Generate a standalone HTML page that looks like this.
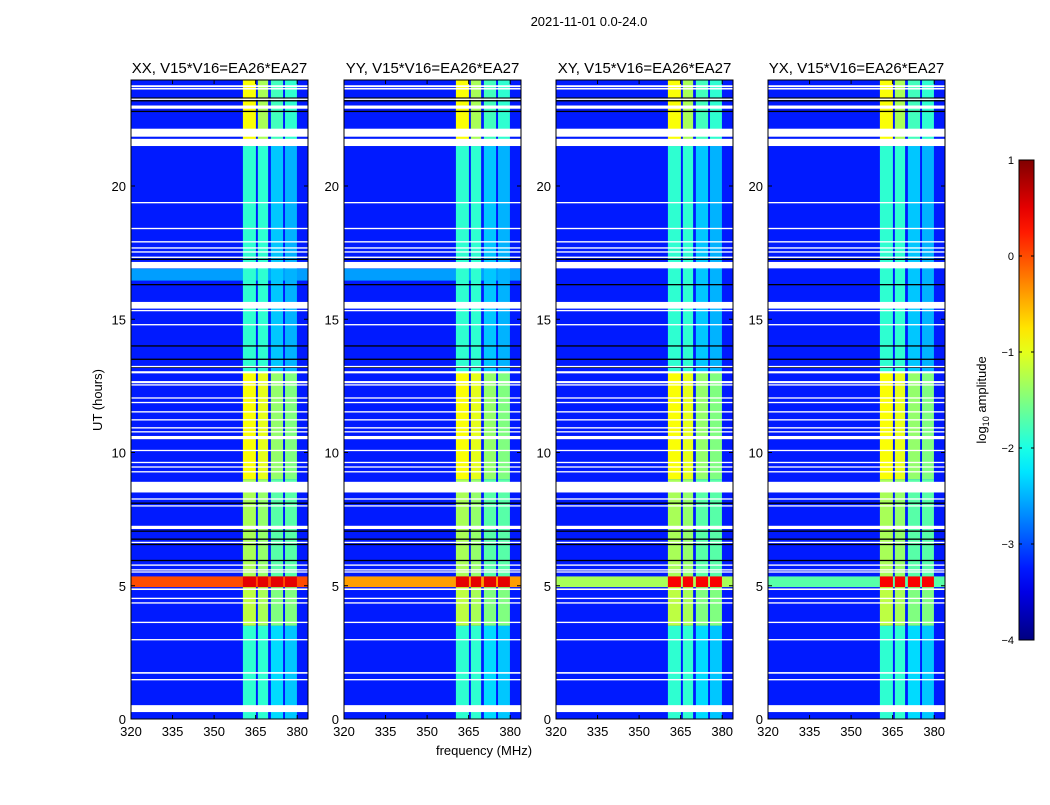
<!DOCTYPE html>
<html><head><meta charset="utf-8"><style>
body{margin:0;background:#fff;font-family:"Liberation Sans",sans-serif}
svg text{font-family:"Liberation Sans","DejaVu Sans",sans-serif}
</style></head><body>
<svg id="fig" width="1050" height="800" xmlns="http://www.w3.org/2000/svg">
<text x="589" y="26" font-size="13" text-anchor="middle">2021-11-01 0.0-24.0</text>
<text x="484" y="755" font-size="13" text-anchor="middle">frequency (MHz)</text>
<text transform="translate(102,400) rotate(-90)" font-size="13" text-anchor="middle">UT (hours)</text>
<text transform="translate(986,400) rotate(-90)" font-size="13" text-anchor="middle">log<tspan font-size="9" dy="3">10</tspan><tspan dy="-3"> amplitude</tspan></text>
<g id="panels"></g>
<defs><linearGradient id="jet" x1="0" y1="1" x2="0" y2="0"></linearGradient></defs>
<g id="cbar"></g>
</svg>
<script>
const panelTitles=["XX, V15*V16=EA26*EA27","YY, V15*V16=EA26*EA27","XY, V15*V16=EA26*EA27","YX, V15*V16=EA26*EA27"];
const xTicks=[320,335,350,365,380];
const yTicks=[0,5,10,15,20];
const cbTicks=[1,0,-1,-2,-3,-4];
const bgLevel=-3.25;
// channel columns [fStart,fEnd]
const chanLo=[360.4,365.8,370.5,375.6];
const chanHi=[365.1,369.5,374.9,379.9];
// time segments and level of each channel column
const segStart=[0,3.5,5.3,9,13,21.5];
const segEnd=[3.5,5.0,9,13,21.5,24];
const segCh1=[-1.9,-1.2,-1.3,-0.9,-1.9,-0.9];
const segCh2=[-1.9,-1.3,-1.4,-1.0,-1.9,-1.3];
const segCh3=[-2.3,-1.5,-1.7,-1.4,-2.4,-1.8];
const segCh4=[-2.4,-1.5,-1.7,-1.5,-2.5,-1.9];
// RFI band around 5.1 h, per panel level
const rfiStart=4.95, rfiEnd=5.35;
const rfiLevel=[0.0,-0.4,-1.3,-1.7];
const rfiChanLevel=[0.5,0.5,0.4,0.4];
// light band 16.5-16.9 h per panel
const lightStart=16.45, lightEnd=16.9;
const lightLevel=[-2.6,-2.6,-3.25,-3.25];
// flagged (white) time ranges
const flagStart=[0.26,1.45,1.7,2.95,3.6,4.33,4.5,4.84,5.5,5.58,5.75,6.6,7.13,7.98,8.24,8.5,8.78,9.26,9.44,9.6,10.06,10.5,10.76,10.9,11.2,11.5,11.85,12.03,12.52,12.6,12.97,13.2,14.77,15.3,15.4,16.91,17.3,17.5,17.65,17.88,18.38,19.35,21.5,21.65,21.85,22.9,23.23,23.62,23.72,23.72];
const flagEnd=[0.52,1.5,1.76,3.0,3.65,4.38,4.55,4.9,5.54,5.62,5.8,6.65,7.25,8.02,8.28,8.9,8.82,9.3,9.48,9.65,10.1,10.62,10.8,10.95,11.25,11.55,11.9,12.07,12.56,12.68,13.05,13.25,14.82,15.35,15.65,17.15,17.35,17.55,17.7,17.93,18.43,19.4,21.77,21.7,22.15,23.02,23.28,23.68,23.76,23.78];
// black (zero) lines
const zeroLines=[5.95,6.55,6.75,7.05,8.1,13.2,13.5,14.0,16.3,17.25,21.9,22.8,23.2,23.3];
const X0=[131,344,556,768], PW=177, Y0=80, Y1=719, PXH=26.65, PXM=2.77;
function jet(v){const t=Math.max(0,Math.min(1,(v+4)/5));const c=x=>Math.round(255*Math.max(0,Math.min(1,1.5-Math.abs(4*t-x))));return `rgb(${c(3)},${c(2)},${c(1)})`;}
const NS="http://www.w3.org/2000/svg";
function el(tag,attrs,parent){const e=document.createElementNS(NS,tag);for(const k in attrs)e.setAttribute(k,attrs[k]);parent.appendChild(e);return e;}
const panels=document.getElementById('panels');
X0.forEach((x0,p)=>{
 const fx=f=>x0+(f-320)*PXM, ty=t=>Y1-t*PXH;
 const g=el('g',{},panels);
 
 
 const bg=el('rect',{x:x0,y:Y0,width:PW,height:Y1-Y0,fill:jet(bgLevel)},g);
 
 
 const lb=el('rect',{x:x0,y:ty(lightEnd),width:PW,height:(lightEnd-lightStart)*PXH,fill:jet(lightLevel[p])},g);
 
 
 const chans=[segCh1,segCh2,segCh3,segCh4];
 segStart.forEach((s,i)=>{chans.forEach((arr,c)=>{
  const r=el('rect',{x:fx(chanLo[c]),y:ty(segEnd[i]),width:(chanHi[c]-chanLo[c])*PXM,height:(segEnd[i]-s)*PXH,fill:jet(arr[i])},g);
  
  
 });});
 const rb=el('rect',{x:x0,y:ty(rfiEnd),width:PW,height:(rfiEnd-rfiStart)*PXH,fill:jet(rfiLevel[p])},g);
 
 
 chanLo.forEach((lo,c)=>{const r=el('rect',{x:fx(lo),y:ty(rfiEnd),width:(chanHi[c]-lo)*PXM,height:(rfiEnd-rfiStart)*PXH,fill:jet(rfiChanLevel[p])},g);
  
  });
 zeroLines.forEach(t=>{const r=el('rect',{x:x0,y:ty(t)-0.6,width:PW,height:1.3,fill:'#000'},g);
  
  });
 flagStart.forEach((s,i)=>{const h=Math.max(1.3,(flagEnd[i]-s)*PXH);const r=el('rect',{x:x0,y:ty(flagEnd[i]),width:PW,height:h,fill:'#fff'},g);
  
  });
 const fr=el('rect',{x:x0,y:Y0,width:PW,height:Y1-Y0,fill:'none',stroke:'#000','stroke-width':1},g);
 
 
 const tt=el('text',{x:x0+PW/2,y:73,'font-size':15,'text-anchor':'middle'},g);tt.textContent=panelTitles[p];
 
 
 xTicks.forEach(f=>{const x=fx(f);
  el('line',{x1:x,x2:x,y1:Y1,y2:Y1-4,stroke:'#000'},g);el('line',{x1:x,x2:x,y1:Y0,y2:Y0+4,stroke:'#000'},g);
  const t=el('text',{x:x,y:Y1+17,'font-size':13,'text-anchor':'middle'},g);t.textContent=f;
  
  });
 yTicks.forEach(v=>{const y=ty(v);
  el('line',{x1:x0,x2:x0+4,y1:y,y2:y,stroke:'#000'},g);el('line',{x1:x0+PW,x2:x0+PW-4,y1:y,y2:y,stroke:'#000'},g);
  const t=el('text',{x:x0-5,y:y+5,'font-size':13,'text-anchor':'end'},g);t.textContent=v;
  
  });
});
const cb=document.getElementById('cbar');
const CX=1019,CW=15,CT=160,CB=640;
const grad=document.getElementById('jet');
for(let i=0;i<=20;i++){el('stop',{offset:(i/20),'stop-color':jet(-4+5*i/20)},grad);}
el('rect',{x:CX,y:CT,width:CW,height:CB-CT,fill:'url(#jet)',stroke:'#000'},cb);
cbTicks.forEach(v=>{const y=CB-(v+4)/5*(CB-CT);
 el('line',{x1:CX,x2:CX+3,y1:y,y2:y,stroke:'#000'},cb);el('line',{x1:CX+CW,x2:CX+CW-3,y1:y,y2:y,stroke:'#000'},cb);
 const t=el('text',{x:CX-5,y:y+4,'font-size':11,'text-anchor':'end'},cb);t.textContent=v<0?'\u2212'+(-v):v;
 
 });
</script>
</body></html>
